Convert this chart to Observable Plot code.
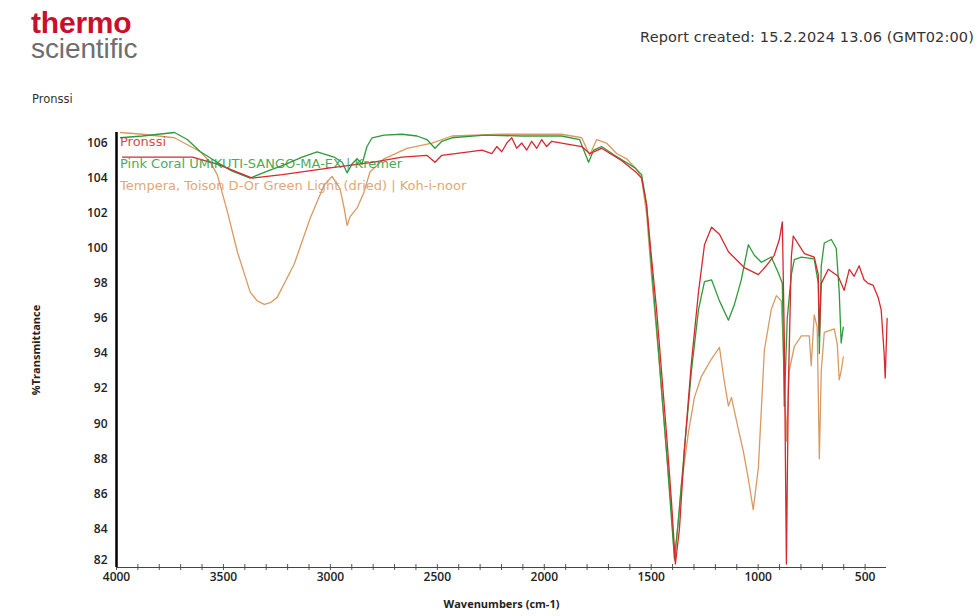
<!DOCTYPE html>
<html>
<head>
<meta charset="utf-8">
<script src="https://cdn.jsdelivr.net/npm/d3@7"></script>
<script src="https://cdn.jsdelivr.net/npm/@observablehq/plot@0.6"></script>
<style>
  html, body { margin: 0; padding: 0; background: #fff; }
  #page { position: relative; width: 978px; height: 616px; overflow: hidden; background: #fff; }
  .abs { position: absolute; white-space: nowrap; z-index: 2; }
  #logo { left: 31px; top: 10px; font-size: 28px; line-height: 25px; font-family: "Liberation Sans", Arial, sans-serif; }
  #logo .t { font-weight: bold; font-size: 30px; line-height: 25px; color: #c8102e; letter-spacing: -0.2px; }
  #logo .s { font-size: 28px; line-height: 25px; color: #6d6e71; letter-spacing: -0.1px; }
  #report { right: 4px; top: 29px; font: 14.5px "DejaVu Sans", sans-serif; letter-spacing: 0.15px; color: #333; }
  #sample { left: 32px; top: 92px; font: 11.5px "DejaVu Sans", sans-serif; color: #333; }
  #chart { position: absolute; left: 0; top: 100px; z-index: 1; }
  #chart svg text { font-weight: 600; }
  .leg { position: absolute; left: 120px; font: 13px "DejaVu Sans", sans-serif; opacity: 0.85; z-index: 2; white-space: nowrap; }
</style>
</head>
<body>
<div id="page">
  <div id="logo" class="abs"><span class="t">thermo</span><br><span class="s">scientific</span></div>
  <div id="report" class="abs">Report created: 15.2.2024 13.06 (GMT02:00)</div>
  <div id="sample" class="abs">Pronssi</div>
  <div id="chart"></div>
  <div id="legend"></div>
</div>
<script>
// ---- data ----
const seriesNames = ["Pronssi", "Pink Coral UMIKUTI-SANGO-MA-EX | Kremer", "Tempera, Toison D-Or Green Light (dried) | Koh-i-noor"];
const seriesColors = ["#d7282f", "#2f9a3c", "#d99a62"];

const pronssiWn = [3972,3785,3645,3529,3365,3225,2992,2805,2665,2549,2511,2479,2353,2292,2245,2222,2199,2175,2152,2129,2105,2082,2059,2035,2012,1989,1965,1919,1872,1825,1788,1732,1639,1568,1545,1522,1499,1475,1452,1429,1405,1387,1368,1345,1312,1279,1251,1218,1181,1139,1065,999,962,925,901,887,878,868,859,845,836,784,738,719,714,705,672,626,598,574,551,528,505,486,463,439,425,411,406,397];
const pronssiT  = [105.2,105.2,105.2,104.8,104.0,104.2,104.6,104.9,105.2,105.3,104.9,105.3,105.5,105.6,105.4,105.8,105.5,106.0,106.3,105.7,106.0,105.6,106.1,105.7,106.2,105.8,106.1,106.0,105.9,105.8,105.4,105.7,105.0,104.3,104.0,102.5,99.5,96.5,93.0,89.5,85.5,82.0,84.0,88.5,93.5,97.5,100.2,101.2,100.8,99.8,98.9,98.5,99.0,99.6,100.5,101.5,95.0,82.0,92.0,99.5,100.7,99.7,99.5,98.5,95.0,98.0,98.8,98.4,97.6,98.8,98.4,99.0,98.2,98.0,97.9,97.2,96.5,94.0,92.6,96.0];

const coralWn = [3981,3879,3729,3669,3608,3529,3459,3375,3295,3216,3132,3062,2983,2945,2922,2899,2875,2852,2829,2805,2749,2665,2595,2549,2511,2479,2432,2278,2105,1919,1835,1793,1769,1732,1671,1578,1545,1522,1499,1475,1452,1429,1405,1391,1373,1345,1312,1279,1251,1218,1181,1139,1111,1079,1046,1018,985,939,906,887,878,864,845,831,798,738,719,714,705,691,658,635,621,612,602];
const coralT  = [106.3,106.4,106.6,106.2,105.5,104.9,104.4,104.0,104.4,104.75,105.2,105.5,105.2,104.9,104.3,104.8,105.1,104.8,105.8,106.3,106.45,106.5,106.4,106.2,105.7,106.1,106.3,106.45,106.4,106.4,106.2,104.9,105.6,105.8,105.3,104.6,104.2,102.5,99.0,95.5,92.0,88.5,84.5,82.3,84.5,88.5,93.0,96.5,98.1,98.2,97.0,95.9,96.8,98.2,100.2,99.6,99.2,99.5,98.6,98.0,91.0,96.0,98.5,99.35,99.5,99.4,98.0,94.0,99.0,100.3,100.5,100.0,97.5,94.6,95.5];

const temperaWn = [3981,3879,3729,3608,3561,3529,3482,3435,3375,3342,3309,3281,3249,3169,3095,3029,2992,2955,2936,2922,2908,2875,2843,2815,2749,2642,2525,2432,2199,1919,1825,1788,1755,1709,1662,1615,1568,1545,1522,1499,1466,1433,1405,1391,1377,1359,1326,1298,1265,1218,1181,1158,1139,1125,1093,1069,1046,1023,999,971,939,915,892,878,868,855,831,798,761,752,738,724,714,705,691,644,630,621,612,602];
const temperaT  = [106.6,106.5,106.3,105.5,104.9,104.2,102.1,99.8,97.5,97.0,96.8,96.9,97.2,99.1,101.7,103.6,104.1,103.4,102.3,101.3,101.8,102.3,103.2,104.35,105.1,105.7,106.0,106.4,106.5,106.5,106.3,105.3,106.2,106.0,105.4,105.1,104.5,104.0,102.0,98.5,94.0,89.0,85.0,82.2,84.0,86.5,89.5,91.5,92.7,93.7,94.35,92.4,91.0,91.5,89.7,88.4,86.85,85.1,87.5,94.2,96.5,97.3,97.0,93.0,89.0,93.0,94.4,95.0,95.0,93.3,96.2,95.5,88.0,93.0,95.2,95.4,94.5,92.5,93.0,93.8];

const xDomain = [4000, 400];
const yDomain = [81.8, 106.6];
const xMajorTicks = [4000, 3500, 3000, 2500, 2000, 1500, 1000, 500];
const xMinorTicks = d3.range(500, 4001, 100);
const yTicks = [84, 86, 88, 90, 92, 94, 96, 98, 100, 102, 104, 106];
const yBottomTick = [82];

// ---- build tables ----
const toRows = (wn, t) => wn.map((w, i) => ({wn: w, t: t[i]}));
const series = [
  {rows: toRows(temperaWn, temperaT), color: seriesColors[2]},
  {rows: toRows(coralWn, coralT), color: seriesColors[1]},
  {rows: toRows(pronssiWn, pronssiT), color: seriesColors[0]}
];
const fmt = d => String(d);

const chart = Plot.plot({
  width: 978,
  height: 516,
  marginLeft: 116,
  marginRight: 92,
  marginTop: 32,
  marginBottom: 49,
  x: {domain: xDomain},
  y: {domain: yDomain},
  style: {fontFamily: "'Open Sans', 'DejaVu Sans', sans-serif", fontSize: "12px", color: "#222", background: "transparent", overflow: "visible"},
  marks: [
    Plot.axisY({ticks: yTicks, tickFormat: fmt, tickSize: 0, tickPadding: 9, label: "%Transmittance", labelAnchor: "center", labelArrow: "none", labelOffset: 84, fontSize: 12}),
    Plot.axisY({ticks: yBottomTick, tickFormat: fmt, tickSize: 0, tickPadding: 9, label: null, fontSize: 12, dy: -4}),
    Plot.axisX({ticks: xMajorTicks, tickFormat: fmt, tickSize: 0, tickPadding: 5, label: "Wavenumbers (cm-1)", labelAnchor: "center", labelArrow: "none", labelOffset: 40, fontSize: 12}),
    Plot.axisX({ticks: xMinorTicks, tickSize: 3, tickFormat: () => "", label: null, stroke: "#555"}),
    Plot.axisX({ticks: xMinorTicks, tickSize: -3, tickFormat: () => "", label: null, stroke: "#555"}),
    Plot.ruleY([yDomain[0]], {stroke: "#444", strokeWidth: 1.2}),
    ...series.map(s => Plot.line(s.rows, {x: "wn", y: "t", stroke: s.color, strokeWidth: 1.3, curve: "linear"})),
    Plot.ruleX([xDomain[0]], {stroke: "#000", strokeWidth: 2.5})
  ]
});
document.getElementById("chart").appendChild(chart);

// axis title styling
chart.querySelectorAll("g[aria-label='y-axis label'] text, g[aria-label='x-axis label'] text").forEach(t => {
  t.style.fontSize = "11px";
  t.style.fontWeight = "bold";
});

// legend inside plot
const legend = document.getElementById("legend");
const legTops = [134, 156, 178];
seriesNames.forEach((name, i) => {
  const d = document.createElement("div");
  d.className = "leg";
  d.style.top = legTops[i] + "px";
  d.style.color = seriesColors[i];
  d.textContent = name;
  legend.appendChild(d);
});
</script>
</body>
</html>
